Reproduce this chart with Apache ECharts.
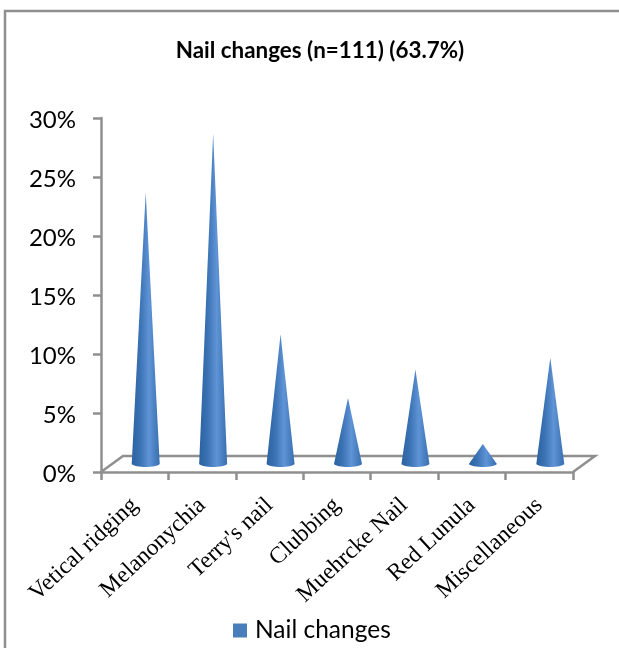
<!DOCTYPE html>
<html>
<head>
<meta charset="utf-8">
<style>html,body{margin:0;padding:0;background:#fff;overflow:hidden}#chart{width:619px;height:648px}</style>
<script src="https://cdn.jsdelivr.net/npm/echarts@6/dist/echarts.min.js"></script>
</head>
<body>
<div id="chart"></div>
<script>
const categories = ['Vetical ridging', 'Melanonychia', "Terry's nail", 'Clubbing', 'Muehrcke Nail', 'Red Lunula', 'Miscellaneous'];
const nailChanges = [23, 28, 11, 5.6, 8, 1.7, 9];
const yTicks = [0, 5, 10, 15, 20, 25, 30];

const seriesName = 'Nail changes';
const grey = '#8f8f8f';
const depthX = 22, depthY = 16;      // receding offset of the 3D floor
const coneHalfWidth = 14;

const chart = echarts.init(document.getElementById('chart'));

// Floor parallelogram behind the cones, spanning the whole category axis
function renderFloor(params, api) {
  const band = api.size([1, 0])[0];
  const a = api.coord([0, 0]);
  const x0 = a[0] - band / 2, x1 = x0 + band * categories.length, y = a[1];
  return {
    type: 'polyline',
    silent: true,
    shape: { points: [[x0, y], [x0 + depthX, y - depthY], [x1 + depthX, y - depthY], [x1, y]] },
    style: { fill: 'none', stroke: grey, lineWidth: 2.5 }
  };
}

// Cone standing mid-way on the floor, apex at its value
function renderCone(params, api) {
  const base = api.coord([api.value(0), 0]);
  const tip = api.coord([api.value(0), api.value(1)]);
  const cx = base[0] + depthX / 2, by = base[1] - depthY / 2, ty = tip[1] - depthY / 2;
  const w = coneHalfWidth;
  return {
    type: 'path',
    shape: {
      pathData: `M${cx} ${ty}L${cx + w} ${by}C${cx + w - 3} ${by + 4} ${cx - w + 3} ${by + 4} ${cx - w} ${by}Z`
    },
    style: {
      fill: new echarts.graphic.LinearGradient(0, 0, 1, 0, [
        { offset: 0, color: '#2c629f' },
        { offset: 0.3, color: '#3a72b4' },
        { offset: 0.62, color: '#5f94d6' },
        { offset: 1, color: '#376fb0' }
      ])
    }
  };
}

chart.setOption({
  animation: false,
  backgroundColor: '#fff',
  title: {
    text: 'Nail changes (n=111) (63.7%)',
    left: 315, top: 35, textAlign: 'center',
    textStyle: { fontFamily: 'Lato', fontWeight: 'bold', fontSize: 22.4, color: '#000' }
  },
  legend: {
    data: [{ name: seriesName, icon: 'rect' }],
    left: 228, top: 613,
    itemWidth: 14, itemHeight: 14, itemGap: 8,
    textStyle: { fontFamily: 'Lato', fontSize: 24.5, color: '#000', padding: [0, 0, 0, 3] }
  },
  graphic: [{
    type: 'rect', silent: true, z: -1,
    shape: { x: 5, y: 11, width: 700, height: 700 },
    style: { fill: 'none', stroke: grey, lineWidth: 2.5 }
  }],
  grid: { left: 101, top: 118, width: 472, height: 354, containLabel: false },
  xAxis: {
    type: 'category',
    data: categories,
    boundaryGap: true,
    axisLine: { lineStyle: { color: grey, width: 2.5 } },
    axisTick: { show: true, alignWithLabel: false, length: 8, lineStyle: { color: grey, width: 2.5 } },
    axisLabel: {
      interval: 0, rotate: 43, margin: 30,
      fontFamily: 'Liberation Serif', fontSize: 23.5, color: '#000'
    }
  },
  yAxis: {
    type: 'value',
    min: yTicks[0], max: yTicks[yTicks.length - 1], interval: 5,
    splitLine: { show: false },
    axisLine: { show: true, lineStyle: { color: grey, width: 2.5 } },
    axisTick: { show: true, length: 8, lineStyle: { color: grey, width: 2.5 } },
    axisLabel: {
      margin: 25,
      formatter: '{tick|{value}%}',
      rich: { tick: { fontFamily: 'Lato', fontSize: 24, color: '#000', padding: [5, 0, 0, 0] } }
    }
  },
  series: [
    { type: 'custom', name: 'floor', silent: true, z: 1, renderItem: renderFloor, data: [[0, 0]], clip: false },
    {
      type: 'custom', name: seriesName, z: 2, renderItem: renderCone, clip: false,
      itemStyle: { color: '#4a7ebb' },
      encode: { x: 0, y: 1 },
      data: nailChanges.map((v, i) => [i, v])
    }
  ]
});
</script>
</body>
</html>
